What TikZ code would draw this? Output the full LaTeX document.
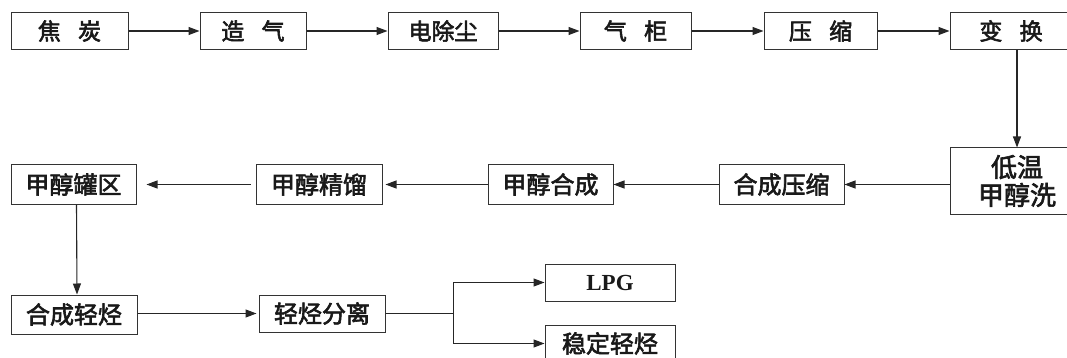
\documentclass[tikz,border=0pt]{standalone}
\usepackage{fontspec}
\setmainfont{Liberation Serif}
\newfontfamily\cjk[FakeBold=2.5]{Noto Sans CJK SC}
\usetikzlibrary{arrows.meta}
\tikzset{
  box/.style={draw=black!80, line width=1pt, minimum height=37pt, inner sep=0pt,
    font=\cjk\fontsize{23}{28}\selectfont, text=black!90},
  boxb/.style={box, font=\cjk\fontsize{24}{28}\selectfont},
  arr/.style={draw=black!85, line width=1.1pt, -{Triangle[length=11pt,width=8pt]}}
}
\begin{document}
\begin{tikzpicture}[x=1pt,y=-1pt]
\useasboundingbox (0,0) rectangle (1067,358);
\fill[white] (0,0) rectangle (1067,358);
\clip (0,0) rectangle (1067,358);
% row 1
\node[box, minimum width=117pt] (jt) at (69.5,31) {焦\hspace{0.75em}炭};
\node[box, minimum width=106pt] (zq) at (253,31) {造\hspace{0.75em}气};
\node[box, minimum width=110pt] (dc) at (443,31) {电除尘};
\node[box, minimum width=111pt] (qg) at (635.5,31) {气\hspace{0.75em}柜};
\node[box, minimum width=113pt] (ys) at (820.5,31) {压\hspace{0.75em}缩};
\node[box, minimum width=134pt] (bh) at (1017,31) {\hspace{-12pt}变\hspace{0.75em}换};
% row 2
\node[boxb, minimum width=125pt, minimum height=39pt] (gq) at (73.5,184.5) {甲醇罐区};
\node[boxb, minimum width=126pt, minimum height=39pt] (jl) at (319,184.5) {甲醇精馏};
\node[boxb, minimum width=125pt, minimum height=39pt] (hc) at (550.5,184.5) {甲醇合成};
\node[boxb, minimum width=125pt, minimum height=39pt] (hcy) at (781.5,184.5) {合成压缩};
\node[box, minimum width=134pt, minimum height=66pt, align=center,
  font=\cjk\fontsize{26}{28}\selectfont] (dw) at (1017,181) {低温\\甲醇洗};
% row 3
\node[boxb, minimum width=126pt, minimum height=39pt] (hq) at (74,314.5) {合成轻烃};
\node[boxb, minimum width=126pt] (fl) at (322,313.5) {轻烃分离};
\node[box, minimum width=130pt, font=\bfseries\fontsize{23}{24}\selectfont] (lpg) at (610,282.5) {LPG};
\node[boxb, minimum width=130pt] (wd) at (610,343.5) {稳定轻烃};
% connectors
\draw[arr] (jt) -- (zq);
\draw[arr] (zq) -- (dc);
\draw[arr] (dc) -- (qg);
\draw[arr] (qg) -- (ys);
\draw[arr] (ys) -- (bh);
\draw[arr] (bh.south) -- (dw.north);
\draw[arr] (dw.west |- hcy.east) -- (hcy.east);
\draw[arr] (hcy) -- (hc);
\draw[arr, shorten >=3pt] (hc) -- (jl);
\draw[arr, shorten <=5pt, shorten >=10pt] (jl) -- (gq);
\draw[arr] ([xshift=3pt]gq.south) -- ([xshift=3pt]hq.north);
\draw[arr, shorten >=2pt] (hq.east |- fl.west) -- (fl.west);
\draw[arr] (fl.east) -- ++(68,0) |- (lpg.west);
\draw[arr] (fl.east) -- ++(68,0) |- (wd.west);
\end{tikzpicture}
\end{document}
